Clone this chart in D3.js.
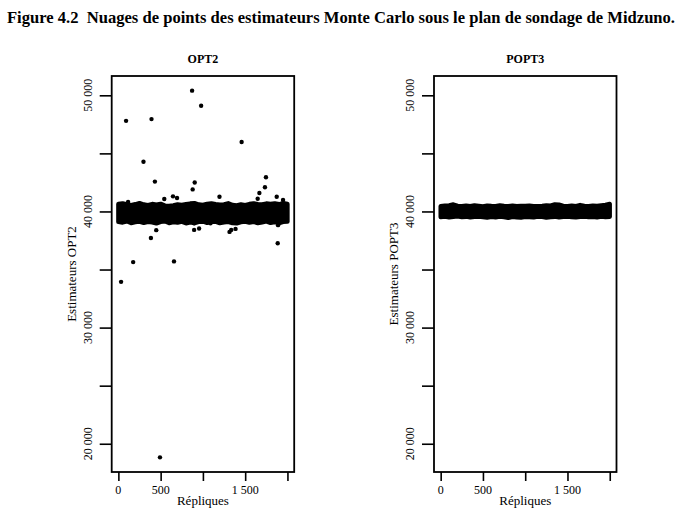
<!DOCTYPE html>
<html>
<head>
<meta charset="utf-8">
<script src="https://cdn.jsdelivr.net/npm/d3@7/dist/d3.min.js"></script>
<style>
  body { margin: 0; background: #fff; }
  svg { display: block; }
  text { font-family: "Liberation Serif", "Times New Roman", serif; fill: #000; }
</style>
</head>
<body>
<div id="chart"></div>
<script>
// --- data ---
const figureTitle = "Figure 4.2  Nuages de points des estimateurs Monte Carlo sous le plan de sondage de Midzuno.";
const panelNames = ["OPT2", "POPT3"];
const yLabels = ["Estimateurs OPT2", "Estimateurs POPT3"];
const xLabel = "Répliques";

const replicateRange = [1, 2000];
const xTicks = [0, 500, 1000, 1500, 2000];
const xTickLabels = ["0", "500", "", "1 500", ""];
const yTicks = [20000, 25000, 30000, 35000, 40000, 45000, 50000];
const yTickLabels = ["20 000", "", "30 000", "", "40 000", "", "50 000"];

// the dense cloud of ~2000 estimates, given as its upper / lower envelope
const bandReplicates = [0, 50, 100, 150, 200, 250, 300, 350, 400, 450, 500, 550, 600, 650, 700,
  750, 800, 850, 900, 950, 1000, 1050, 1100, 1150, 1200, 1250, 1300, 1350, 1400, 1450, 1500,
  1550, 1600, 1650, 1700, 1750, 1800, 1850, 1900, 1950, 2000];

const opt2Upper = [40650, 40700, 40600, 40550, 40620, 40720, 40600, 40550, 40640, 40580, 40650,
  40500, 40480, 40520, 40600, 40560, 40620, 40680, 40720, 40600, 40560, 40650, 40700, 40620,
  40580, 40600, 40700, 40560, 40520, 40600, 40550, 40640, 40700, 40620, 40600, 40680, 40640,
  40700, 40620, 40720, 40650];
const opt2Lower = [39100, 39050, 39150, 39000, 39080, 39120, 39020, 39100, 39060, 38980, 39100,
  39150, 39000, 39080, 39040, 39120, 38980, 39060, 39000, 39100, 39140, 39020, 39080, 39120,
  39000, 39060, 39100, 39000, 38980, 39080, 39120, 39040, 39100, 39000, 39060, 39140, 39020,
  39080, 39000, 39100, 39120];

const popt3Upper = [40450, 40500, 40520, 40600, 40480, 40460, 40500, 40450, 40520, 40480, 40440,
  40500, 40470, 40450, 40520, 40480, 40460, 40500, 40450, 40480, 40470, 40500, 40460, 40450,
  40480, 40520, 40500, 40600, 40580, 40480, 40460, 40500, 40450, 40550, 40480, 40460, 40500,
  40480, 40520, 40560, 40650];
const popt3Lower = [39520, 39560, 39500, 39540, 39580, 39520, 39550, 39500, 39540, 39560, 39520,
  39480, 39540, 39500, 39560, 39520, 39460, 39540, 39500, 39480, 39540, 39520, 39500, 39560,
  39540, 39480, 39520, 39550, 39500, 39540, 39560, 39520, 39500, 39540, 39560, 39520, 39540,
  39500, 39560, 39520, 39540];

// isolated estimates: [replicate, value]
const opt2Outliers = [
  [91, 47800], [392, 47950], [872, 50400], [979, 49100], [1458, 45980], [297, 44280],
  [432, 42570], [903, 42490], [879, 41900], [1746, 42950], [1734, 42080], [1668, 41590],
  [543, 41070], [646, 41300], [694, 41160], [1196, 41270], [1648, 41100], [1873, 41270],
  [1948, 40990], [115, 40820],
  [582, 39130], [896, 38990], [955, 38530], [896, 38410], [448, 38390], [385, 37720],
  [1335, 38410], [1315, 38240], [1386, 38500], [1089, 38990], [1889, 38820], [1885, 37260],
  [175, 35640], [658, 35700], [32, 33940], [492, 18830]
];
const popt3Outliers = [];

const panels = [
  { upper: opt2Upper, lower: opt2Lower, outliers: opt2Outliers },
  { upper: popt3Upper, lower: popt3Lower, outliers: popt3Outliers }
];

// --- layout ---
const width = 684, height = 520;
const boxLeft = [111.7, 434];
const boxW = 182.5, boxTop = 76, boxBottom = 472;
const dotR = 2.2;

// R style: pad the data range by 4% on each side
function pad(ext) {
  const d = (ext[1] - ext[0]) * 0.04;
  return [ext[0] - d, ext[1] + d];
}
const yValues = opt2Outliers.map(d => d[1]).concat(opt2Upper, opt2Lower);
const yDomain = pad(d3.extent(yValues));
const xDomain = pad(replicateRange);

const svg = d3.select("#chart").append("svg")
  .attr("width", width)
  .attr("height", height);

svg.append("text")
  .attr("x", 7)
  .attr("y", 23)
  .attr("textLength", 668)
  .attr("lengthAdjust", "spacingAndGlyphs")
  .style("white-space", "pre")
  .style("font-size", "16.5px")
  .style("font-weight", "bold")
  .text(figureTitle);

panels.forEach((p, i) => {
  const x0 = boxLeft[i];
  const x = d3.scaleLinear().domain(xDomain).range([x0, x0 + boxW]);
  const y = d3.scaleLinear().domain(yDomain).range([boxBottom, boxTop]);
  const g = svg.append("g");
  const cx = x0 + boxW / 2;

  // y axis
  const yAxis = g.append("g")
    .attr("transform", `translate(${x0},0)`)
    .call(d3.axisLeft(y).tickValues(yTicks).tickSize(12).tickFormat(""));
  yAxis.select(".domain").remove();
  yAxis.selectAll(".tick line").attr("stroke-width", 1.6);
  g.selectAll(".ylab")
    .data(yTicks)
    .enter().append("text")
    .attr("transform", d => `translate(${x0 - 20},${y(d)}) rotate(-90)`)
    .attr("text-anchor", "middle")
    .style("font-size", "12px")
    .text((d, k) => yTickLabels[k]);

  // x axis
  const xAxis = g.append("g")
    .attr("transform", `translate(0,${boxBottom})`)
    .call(d3.axisBottom(x).tickValues(xTicks).tickSize(9).tickFormat(""));
  xAxis.select(".domain").remove();
  xAxis.selectAll(".tick line").attr("stroke-width", 1.6);
  g.selectAll(".xlab")
    .data(xTicks)
    .enter().append("text")
    .attr("x", d => x(d))
    .attr("y", boxBottom + 21.5)
    .attr("text-anchor", "middle")
    .style("font-size", "12px")
    .text((d, k) => xTickLabels[k]);

  // titles
  g.append("text")
    .attr("x", cx).attr("y", 63)
    .attr("text-anchor", "middle")
    .style("font-size", "12px")
    .style("font-weight", "bold")
    .text(panelNames[i]);
  g.append("text")
    .attr("x", cx).attr("y", boxBottom + 33)
    .attr("text-anchor", "middle")
    .style("font-size", "13px")
    .text(xLabel);
  g.append("text")
    .attr("transform", `translate(${x0 - 36},${(boxTop + boxBottom) / 2}) rotate(-90)`)
    .attr("text-anchor", "middle")
    .style("font-size", "13px")
    .text(yLabels[i]);

  // dense cloud
  const band = bandReplicates.map((r, k) => ({ r: r, hi: p.upper[k], lo: p.lower[k] }));
  g.append("path")
    .datum(band)
    .attr("d", d3.area().x(d => x(d.r)).y0(d => y(d.lo)).y1(d => y(d.hi)))
    .attr("fill", "#000")
    .attr("stroke", "#000")
    .attr("stroke-width", dotR * 2)
    .attr("stroke-linejoin", "round");

  g.selectAll(".pt")
    .data(p.outliers)
    .enter().append("circle")
    .attr("cx", d => x(d[0]))
    .attr("cy", d => y(d[1]))
    .attr("r", dotR)
    .attr("fill", "#000");

  // frame
  g.append("rect")
    .attr("x", x0).attr("y", boxTop)
    .attr("width", boxW).attr("height", boxBottom - boxTop)
    .attr("fill", "none")
    .attr("stroke", "#000")
    .attr("stroke-width", 1.8);
});
</script>
</body>
</html>
